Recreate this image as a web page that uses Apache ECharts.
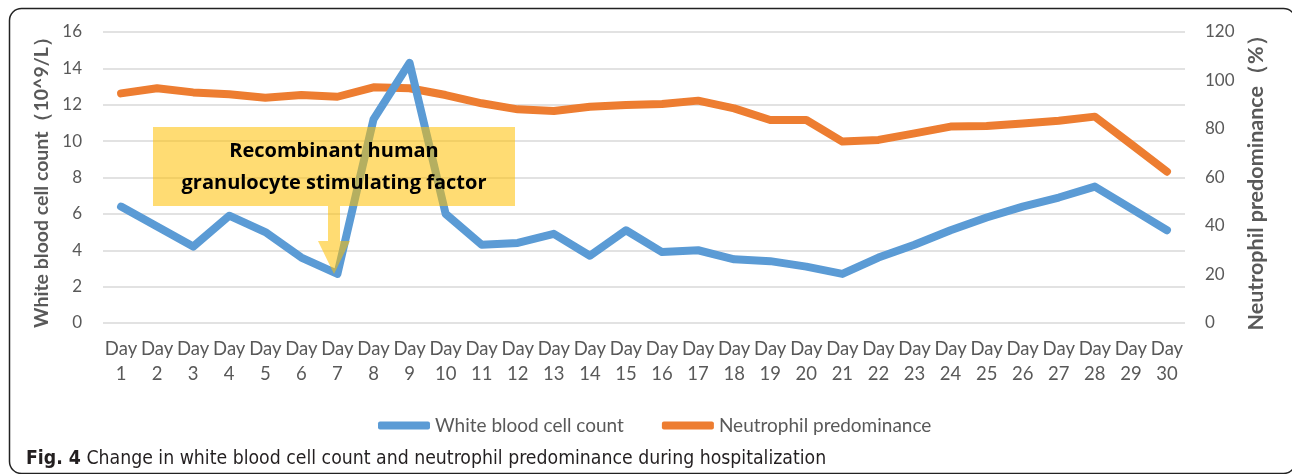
<!DOCTYPE html>
<html>
<head>
<meta charset="utf-8">
<script src="https://cdn.jsdelivr.net/npm/echarts@6/dist/echarts.min.js"></script>
<style>
html,body{margin:0;padding:0;background:#fff;}
#chart{width:1292px;height:474px;}
</style>
</head>
<body>
<div id="chart"></div>
<script>
const days = ['Day\n1','Day\n2','Day\n3','Day\n4','Day\n5','Day\n6','Day\n7','Day\n8','Day\n9','Day\n10','Day\n11','Day\n12','Day\n13','Day\n14','Day\n15','Day\n16','Day\n17','Day\n18','Day\n19','Day\n20','Day\n21','Day\n22','Day\n23','Day\n24','Day\n25','Day\n26','Day\n27','Day\n28','Day\n29','Day\n30'];
const wbc = [6.4,5.3,4.2,5.9,5.0,3.6,2.7,11.2,14.3,6.0,4.3,4.4,4.9,3.7,5.1,3.9,4.0,3.5,3.4,3.1,2.7,3.6,4.3,5.1,5.8,6.4,6.9,7.5,6.3,5.1];
const neut = [94.7,96.8,95.1,94.3,92.9,94.0,93.3,97.2,96.8,94.0,90.6,88.1,87.4,89.2,89.9,90.3,91.7,88.5,83.7,83.7,74.8,75.5,78.2,81.0,81.2,82.3,83.4,85.1,73.8,62.4];
const leftTicks = {min:0, max:16, interval:2};
const rightTicks = {min:0, max:120, interval:20};
const seriesNames = ['White blood cell count','Neutrophil predominance'];
const annotationLines = ['Recombinant human','granulocyte stimulating factor'];
const captionBold = 'Fig. 4';
const captionText = ' Change in white blood cell count and neutrophil predominance during hospitalization';

const chart = echarts.init(document.getElementById('chart'), null, {renderer:'canvas'});
const FONT = 'Lato, "Open Sans", sans-serif';
const GRAY = '#595959';
const CAPFONT = '"DejaVu Sans Condensed", "Open Sans", sans-serif';
chart.setOption({
  animation:false,
  textStyle:{fontFamily:FONT},
  grid:{left:103, right:107, top:32, bottom:151, containLabel:false},
  legend:{
    left:373, top:411, itemWidth:52, itemHeight:8, itemGap:38, icon:'roundRect',
    textStyle:{fontSize:19, color:GRAY, fontFamily:FONT},
    data:seriesNames
  },
  xAxis:{
    type:'category', data:days, boundaryGap:true,
    axisLine:{show:false}, axisTick:{show:false},
    axisLabel:{fontSize:18.5, color:GRAY, lineHeight:24.5, margin:14, interval:0, fontFamily:FONT}
  },
  yAxis:[
    {type:'value', min:leftTicks.min, max:leftTicks.max, interval:leftTicks.interval, position:'left',
     name:'White blood cell count（10^9/L）', nameLocation:'middle', nameRotate:90, nameGap:51,
     nameTextStyle:{fontSize:19.5, fontWeight:'bold', color:GRAY, fontFamily:FONT},
     axisLine:{show:false}, axisTick:{show:false},
     axisLabel:{fontSize:17, color:GRAY, margin:21, fontFamily:FONT},
     splitLine:{lineStyle:{color:'#D9D9D9', width:1.5}}},
    {type:'value', min:rightTicks.min, max:rightTicks.max, interval:rightTicks.interval, position:'right',
     name:'Neutrophil predominance（%）', nameLocation:'middle', nameRotate:90, nameGap:60,
     nameTextStyle:{fontSize:21.5, fontWeight:'bold', color:GRAY, fontFamily:FONT},
     axisLine:{show:false}, axisTick:{show:false},
     axisLabel:{fontSize:17, color:GRAY, margin:20, fontFamily:FONT},
     splitLine:{show:false}}
  ],
  series:[
    {name:seriesNames[0], type:'line', yAxisIndex:0, data:wbc, symbol:'none',
     lineStyle:{width:8, color:'#5B9BD5', cap:'round', join:'round'}, itemStyle:{color:'#5B9BD5'}, z:3},
    {name:seriesNames[1], type:'line', yAxisIndex:1, data:neut, symbol:'none',
     lineStyle:{width:8, color:'#ED7D31', cap:'round', join:'round'}, itemStyle:{color:'#ED7D31'}, z:2}
  ],
  graphic:[
    {type:'rect', z:100, shape:{x:9.5, y:8.5, width:1286, height:465, r:12}, style:{fill:'none', stroke:'#222', lineWidth:1.5}, silent:true},
    {type:'rect', z:100, shape:{x:153, y:127, width:362, height:79}, style:{fill:'rgba(255,192,0,0.55)'}},
    {type:'polygon', z:100, shape:{points:[[328,206],[340,206],[340,241],[350,241],[334,274],[318,241],[328,241]]}, style:{fill:'rgba(255,192,0,0.55)'}},
    {type:'text', z:101, style:{x:334, y:151, text:annotationLines[0], align:'center', verticalAlign:'middle', font:'bold 20px "Open Sans", sans-serif', fill:'#000'}},
    {type:'text', z:101, style:{x:334, y:183, text:annotationLines[1], align:'center', verticalAlign:'middle', font:'bold 20px "Open Sans", sans-serif', fill:'#000'}},
    {type:'text', z:101, style:{x:26, y:459, verticalAlign:'middle', text:'{b|' + captionBold + '}{n|' + captionText + '}',
      rich:{b:{fontWeight:'bold', fontSize:19.3, fontFamily:CAPFONT, fill:'#231F20'},
            n:{fontSize:19.3, fontFamily:CAPFONT, fill:'#231F20'}}}}
  ]
});
</script>
</body>
</html>
